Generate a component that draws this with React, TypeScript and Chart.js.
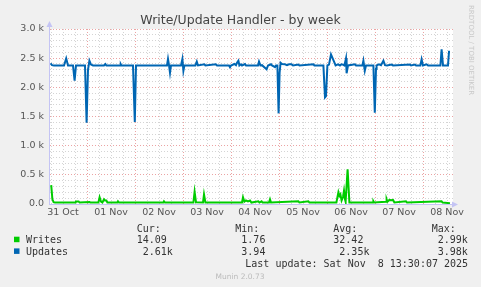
import React, { useEffect, useRef } from 'react';
import { Chart, registerables } from 'chart.js';

Chart.register(...registerables);

const TITLE = 'Write/Update Handler - by week';
const SIDE_TEXT = 'RRDTOOL / TOBI OETIKER';
const FOOTER = 'Munin 2.0.73';
const LAST_UPDATE = 'Last update: Sat Nov  8 13:30:07 2025';

// x axis: hours relative to 01 Nov 00:00
const X_MIN = -19;
const X_MAX = 183;
const DAY_LABELS = ['31 Oct', '01 Nov', '02 Nov', '03 Nov', '04 Nov', '05 Nov', '06 Nov', '07 Nov', '08 Nov'];
const Y_MAX = 3000;
const Y_LABEL_VALUES = [0, 500, 1000, 1500, 2000, 2500, 3000];
const Y_LABELS = ['0.0', '0.5 k', '1.0 k', '1.5 k', '2.0 k', '2.5 k', '3.0 k'];

const SERIES_NAMES = ['Writes', 'Updates'];
const SERIES_COLORS = ['#00CC00', '#0066B3'];
const COL_HEADERS = ['Cur:', 'Min:', 'Avg:', 'Max:'];
const CUR = ['14.09', ' 2.61k'];
const MIN = [' 1.76', ' 3.94'];
const AVG = ['32.42', ' 2.35k'];
const MAX = [' 2.99k', ' 3.98k'];

const UPDATES_HOURS = [
  -18.2, -17.5, -16.5, -11.5, -10.4, -9.5, -7, -6.2, -5.5, -1, -0.2, 0.5, 1.2, 2, 3, 8.5, 9.2, 9.7,
  16.5, 16.9, 17.2, 23, 23.9, 24.5, 40, 40.5, 41, 41.5, 42, 47, 47.7, 48.2, 48.7, 54.2, 54.9, 55.5,
  58.7, 59.2, 64.4, 65, 71, 71.5, 72, 73.7, 74.5, 75, 75.7, 76.2, 77, 77.5, 79, 79.5, 85.5, 86, 86.7,
  87.5, 89.8, 90.5, 92, 92.5, 94, 94.5, 95.2, 95.8, 96.3, 96.8, 97.5, 99, 100, 101, 102.3, 103, 105.7,
  106.2, 113.2, 113.7, 118.2, 119, 119.5, 120.2, 121, 122, 123.2, 124.3, 125.5, 126.5, 127.2, 128,
  128.7, 129.5, 129.8, 130.5, 134, 134.5, 137.7, 138.2, 138.9, 139.5, 143.2, 143.9, 144.5, 144.8, 146,
  147, 148.2, 149, 150, 152.3, 153, 161.5, 162, 164, 164.5, 166.7, 167.3, 168, 169.8, 170.5, 176.7,
  177.3, 178, 180.5, 181, 181.5,
];
const UPDATES_VALUES = [
  2410, 2380, 2375, 2375, 2497, 2375, 2375, 2114, 2375, 2375, 1394, 2300, 2456, 2390, 2375, 2375, 2400, 2375,
  2375, 2395, 2375, 2375, 1406, 2375, 2375, 2486, 2380, 2251, 2375, 2375, 2486, 2285, 2375, 2375, 2440, 2375,
  2395, 2375, 2395, 2375, 2375, 2345, 2375, 2400, 2380, 2420, 2456, 2375, 2395, 2375, 2400, 2375, 2375, 2440, 2375,
  2380, 2309, 2375, 2395, 2375, 2345, 2375, 2375, 1554, 2250, 2422, 2400, 2395, 2380, 2395, 2395, 2375, 2390,
  2375, 2395, 2375, 2375, 1829, 1850, 2375, 2390, 2566, 2468, 2375, 2395, 2375, 2395, 2390,
  2375, 2497, 2240, 2375, 2395, 2375, 2375, 2456, 2285, 2375, 2375, 1565, 2320, 2375, 2395,
  2380, 2456, 2380, 2375, 2390, 2375, 2390, 2375, 2390, 2375, 2375, 2480, 2375, 2395, 2375, 2375,
  2651, 2375, 2375, 2611, 2611,
];

const WRITES_HOURS = [
  -17.9, -17.3, -16.7, -16, -5.7, -5.5, -4.2, -3.7, 1.3, 1.7, 5.7, 6.3, 7, 7.7, 8.5, 9, 9.7, 10.2,
  15.2, 15.5, 16, 38.2, 38.5, 39, 53.2, 53.8, 54.5, 58, 58.5, 59.2, 77.5, 78, 78.7, 79.5, 80.5, 81.5,
  82.2, 85.7, 86.2, 87.3, 87.8, 91, 91.5, 92, 105.7, 106.2, 110.7, 111.2, 124.7, 125.7, 126.2, 126.7,
  127.3, 128, 128.5, 129, 129.3, 130.3, 131.2, 143, 143.2, 143.5, 149.5, 149.8, 150.2, 151.2, 152, 153,
  153.7, 159.5, 160, 177.3, 177.8, 181.5,
];
const WRITES_VALUES = [
  325, 80, 30, 25, 25, 45, 45, 25, 35, 25, 25, 115, 40, 25, 80, 60, 60, 25,
  25, 45, 25, 25, 45, 25, 25, 211, 30, 25, 166, 25, 25, 115, 40, 60, 45, 60,
  25, 45, 25, 45, 25, 25, 80, 25, 45, 25, 45, 25, 25, 200, 140, 166,
  60, 120, 228, 80, 40, 595, 25, 25, 45, 25, 40, 80, 40, 70, 65, 70,
  25, 45, 25, 45, 25, 14,
];

const toPoints = (xs: number[], ys: number[]) => xs.map((x, i) => ({ x, y: ys[i] }));

const MAJOR_GRID = '#EBA3A3';
const MINOR_GRID = '#D4D4D4';
const AXIS_COLOR = '#C4C4F4';

const decor = {
  id: 'muninDecor',
  beforeDraw(chart: any) {
    const { ctx, chartArea: a, width, height } = chart;
    ctx.save();
    ctx.fillStyle = '#F0F0F0';
    ctx.fillRect(0, 0, width, height);
    ctx.fillStyle = '#FFFFFF';
    ctx.fillRect(a.left, a.top, a.right - a.left, a.bottom - a.top);
    ctx.restore();
  },
  afterDraw(chart: any) {
    const { ctx, chartArea: a } = chart;
    ctx.save();
    // axis extensions and arrows
    ctx.strokeStyle = AXIS_COLOR;
    ctx.fillStyle = AXIS_COLOR;
    ctx.lineWidth = 1;
    ctx.beginPath();
    ctx.moveTo(a.left + 0.5, a.top);
    ctx.lineTo(a.left + 0.5, a.top - 4);
    ctx.moveTo(a.right, a.bottom + 0.5);
    ctx.lineTo(a.right + 2, a.bottom + 0.5);
    ctx.stroke();
    ctx.beginPath();
    ctx.moveTo(a.left + 0.5, a.top - 8);
    ctx.lineTo(a.left - 2.5, a.top - 2);
    ctx.lineTo(a.left + 3.5, a.top - 2);
    ctx.closePath();
    ctx.fill();
    ctx.beginPath();
    ctx.moveTo(a.right + 5, a.bottom + 0.5);
    ctx.lineTo(a.right - 1, a.bottom - 2.5);
    ctx.lineTo(a.right - 1, a.bottom + 3.5);
    ctx.closePath();
    ctx.fill();

    // title
    ctx.fillStyle = '#444444';
    ctx.font = '12.5px "DejaVu Sans"';
    ctx.textAlign = 'center';
    ctx.textBaseline = 'alphabetic';
    ctx.fillText(TITLE, 240.5, 24);

    // side text
    ctx.save();
    ctx.translate(470.5, 5);
    ctx.rotate(Math.PI / 2);
    ctx.font = '7px "DejaVu Sans"';
    ctx.fillStyle = '#C8C8C8';
    ctx.textAlign = 'left';
    ctx.textBaseline = 'middle';
    ctx.fillText(SIDE_TEXT, 0, 0);
    ctx.restore();

    // legend
    ctx.font = '10px "DejaVu Sans Mono"';
    ctx.fillStyle = '#333333';
    ctx.textAlign = 'left';
    ctx.textBaseline = 'alphabetic';
    const colX = [136.7, 235.3, 333.3, 431.7];
    COL_HEADERS.forEach((h, i) => ctx.fillText(h, colX[i], 231.5));
    const rowY = [243.2, 254.9];
    const valX = [136.7, 235.3, 333.3, 431.7];
    SERIES_NAMES.forEach((name, r) => {
      ctx.fillStyle = SERIES_COLORS[r];
      ctx.fillRect(14, rowY[r] - 6.5, 5.5, 5.5);
      ctx.fillStyle = '#333333';
      ctx.fillText(name, 26, rowY[r]);
      ctx.fillText(CUR[r], valX[0], rowY[r]);
      ctx.fillText(MIN[r], valX[1], rowY[r]);
      ctx.fillText(AVG[r], valX[2], rowY[r]);
      ctx.fillText(MAX[r], valX[3], rowY[r]);
    });
    ctx.fillText(LAST_UPDATE, 245.3, 266.6);

    // footer
    ctx.font = '7.5px "DejaVu Sans"';
    ctx.fillStyle = '#BBBBBB';
    ctx.textAlign = 'center';
    ctx.fillText(FOOTER, 240, 279);
    ctx.restore();
  },
};

export default function App() {
  const ref = useRef<HTMLCanvasElement>(null);
  useEffect(() => {
    const canvas = ref.current;
    if (!canvas) return;
    const chart = new Chart(canvas, {
      type: 'line',
      data: {
        datasets: [
          {
            label: SERIES_NAMES[0],
            data: toPoints(WRITES_HOURS, WRITES_VALUES),
            borderColor: SERIES_COLORS[0],
            backgroundColor: SERIES_COLORS[0],
            borderWidth: 2,
            pointRadius: 0,
            tension: 0,
            fill: false,
          },
          {
            label: SERIES_NAMES[1],
            data: toPoints(UPDATES_HOURS, UPDATES_VALUES),
            borderColor: SERIES_COLORS[1],
            backgroundColor: SERIES_COLORS[1],
            borderWidth: 2,
            pointRadius: 0,
            tension: 0,
            fill: false,
          },
        ],
      },
      options: {
        responsive: false,
        animation: false,
        devicePixelRatio: 1,
        events: [],
        layout: { padding: { left: 0, top: 29, right: 28, bottom: 63 } },
        plugins: {
          legend: { display: false },
          title: { display: false },
          tooltip: { enabled: false },
        },
        scales: {
          x: {
            type: 'linear',
            min: X_MIN,
            max: X_MAX,
            afterBuildTicks: (scale: any) => {
              const ticks = [];
              for (let h = -18; h <= 180; h += 6) ticks.push({ value: h });
              scale.ticks = ticks;
            },
            afterFit: (scale: any) => {
              scale.height = 20;
            },
            ticks: {
              autoSkip: false,
              maxRotation: 0,
              minRotation: 0,
              padding: 3,
              color: '#555555',
              font: { family: 'DejaVu Sans', size: 9.5 },
              callback: (v: any) => {
                const h = Number(v);
                if (((h % 24) + 24) % 24 !== 12) return '';
                return DAY_LABELS[(h + 12) / 24] ?? '';
              },
            },
            grid: {
              drawTicks: false,
              lineWidth: 1,
              color: (c: any) => (((c.tick.value % 24) + 24) % 24 === 0 ? MAJOR_GRID : MINOR_GRID),
            },
            border: { display: true, color: AXIS_COLOR, width: 1, dash: [1, 2] },
          },
          y: {
            type: 'linear',
            min: 0,
            max: Y_MAX,
            afterFit: (scale: any) => {
              scale.width = 49;
            },
            ticks: {
              stepSize: 100,
              autoSkip: false,
              padding: 5,
              color: '#555555',
              font: { family: 'DejaVu Sans', size: 9.5 },
              callback: (v: any) => {
                const idx = Y_LABEL_VALUES.indexOf(Math.round(Number(v)));
                return idx >= 0 ? Y_LABELS[idx] : '';
              },
            },
            grid: {
              drawTicks: false,
              lineWidth: 1,
              color: (c: any) => (Math.round(c.tick.value) % 500 === 0 ? MAJOR_GRID : MINOR_GRID),
            },
            border: { display: true, color: AXIS_COLOR, width: 1, dash: [1, 2] },
          },
        },
      },
      plugins: [decor],
    } as any);
    return () => chart.destroy();
  }, []);
  return (
    <div style={{ position: 'absolute', left: 0, top: 0, width: 481, height: 287, background: '#F0F0F0' }}>
      <canvas ref={ref} width={481} height={287} style={{ display: 'block', width: 481, height: 287 }} />
    </div>
  );
}
